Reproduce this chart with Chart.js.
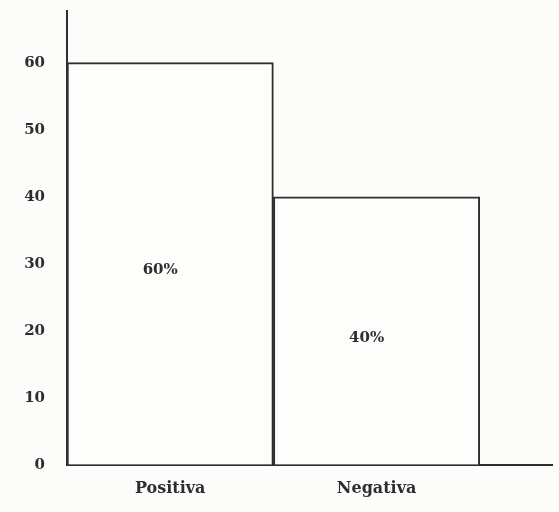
<!DOCTYPE html>
<html>
<head>
<meta charset="utf-8">
<script src="https://cdn.jsdelivr.net/npm/chart.js@4/dist/chart.umd.min.js"></script>
<style>
  html, body { margin: 0; padding: 0; background: #fcfcfa; }
  #wrap { width: 559px; height: 512px; }
</style>
</head>
<body>
<div id="wrap"><canvas id="myChart" width="559" height="512"></canvas></div>
<script>
// categorias y valores (porcentaje)
var categorias = ['Positiva', 'Negativa'];
var posiciones = [0.5, 1.5];
var valores = [60, 40];
var etiquetas = ['60%', '40%'];

var tinta = '#2e2e2e';
var fuente = "'DejaVu Serif', 'Liberation Serif', serif";

// texto dentro de cada barra
var textoBarras = {
    id: 'textoBarras',
    afterDatasetsDraw: function (chart) {
        var ctx = chart.ctx;
        var meta = chart.getDatasetMeta(0);
        ctx.save();
        ctx.fillStyle = tinta;
        ctx.font = 'bold 15px ' + fuente;
        ctx.textAlign = 'center';
        ctx.textBaseline = 'middle';
        meta.data.forEach(function (bar, i) {
            ctx.fillText(etiquetas[i], bar.x - 10, (bar.y + bar.base) / 2 + 7);
        });
        ctx.restore();
    }
};

var puntos = posiciones.map(function (p, i) { return { x: p, y: valores[i] }; });

var ctx = document.getElementById('myChart').getContext('2d');
var myChart = new Chart(ctx, {
    type: 'bar',
    data: {
        datasets: [{
            data: puntos,
            backgroundColor: '#fdfdfb',
            borderColor: tinta,
            borderWidth: 2,
            borderSkipped: 'bottom',
            barThickness: 'flex',
            barPercentage: 1,
            categoryPercentage: 1
        }]
    },
    plugins: [textoBarras],
    options: {
        responsive: false,
        animation: { duration: 0 },
        layout: { padding: { top: 10, right: 7, left: 0, bottom: 0 } },
        plugins: {
            legend: { display: false },
            tooltip: { enabled: false }
        },
        scales: {
            x: {
                type: 'linear',
                offset: false,
                min: 0,
                max: 2.35,
                grid: {
                    drawOnChartArea: false,
                    drawTicks: true,
                    tickLength: 14,
                    tickColor: 'rgba(0,0,0,0)'
                },
                border: { display: true, color: tinta, width: 2 },
                afterFit: function (scale) { scale.height = 47; },
                ticks: {
                    stepSize: 0.5,
                    padding: 0,
                    autoSkip: false,
                    maxRotation: 0,
                    color: tinta,
                    font: { family: fuente, size: 16, weight: 'bold' },
                    callback: function (v) {
                        var i = posiciones.indexOf(v);
                        return i >= 0 ? categorias[i] : '';
                    }
                }
            },
            y: {
                min: 0,
                max: 67.7,
                grid: {
                    drawOnChartArea: false,
                    drawTicks: true,
                    tickLength: 20,
                    tickColor: 'rgba(0,0,0,0)'
                },
                border: { display: true, color: tinta, width: 2 },
                afterFit: function (scale) { scale.width = 67; },
                ticks: {
                    stepSize: 10,
                    padding: 2,
                    color: tinta,
                    font: { family: fuente, size: 15, weight: 'bold' },
                    callback: function (v) {
                        return v % 10 === 0 ? v : '';
                    }
                }
            }
        }
    }
});
</script>
</body>
</html>
